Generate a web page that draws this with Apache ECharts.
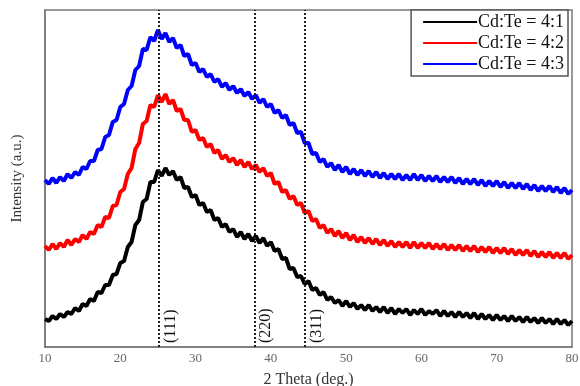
<!doctype html>
<html lang="en">
<head>
    <meta charset="UTF-8">
    <title>XRD CdTe</title>
    <style>
        html, body { margin: 0; padding: 0; background: #fff; }
        #main { width: 580px; height: 386px; }
    </style>
    <script src="https://cdn.jsdelivr.net/npm/echarts@6/dist/echarts.min.js"></script>
</head>
<body>
    <div id="main"></div>
    <script>
        // 2 theta grid: 10 to 80 deg, one reading every 0.5 deg
        var thetaStart = 10;
        var thetaStep = 0.5;

        var seriesNames = ['Cd:Te = 4:1', 'Cd:Te = 4:2', 'Cd:Te = 4:3'];
        var seriesColors = ['#000000', '#ff0000', '#0000ff'];

        // intensity (a.u.)
        var ratio41 = [
            28, 26, 31, 28, 33, 30, 35, 33, 39, 36, 43, 41, 48, 46, 55, 54, 62, 62, 72, 73,
            84, 86, 100, 105, 122, 127, 145, 148, 165, 165, 177, 171, 179, 172, 176, 167, 170, 159, 160, 150,
            152, 142, 144, 135, 137, 127, 129, 120, 123, 115, 118, 110, 115, 108, 113, 106, 111, 104, 109, 101,
            105, 96, 98, 88, 89, 78, 79, 70, 71, 63, 66, 57, 59, 52, 55, 47, 50, 44, 47, 41,
            46, 40, 44, 38, 42, 37, 42, 36, 40, 35, 40, 34, 39, 33, 38, 34, 38, 32, 37, 33,
            38, 32, 36, 33, 37, 31, 36, 31, 35, 30, 35, 30, 34, 29, 34, 28, 33, 28, 32, 27,
            32, 27, 31, 26, 31, 26, 30, 25, 30, 25, 29, 24, 29, 24, 28, 23, 28, 23, 27, 22,
            26
        ];
        var ratio42 = [
            101, 97, 103, 98, 104, 100, 107, 102, 108, 105, 112, 108, 115, 113, 122, 120, 130, 129, 141, 142,
            155, 158, 173, 179, 198, 204, 223, 226, 242, 240, 252, 245, 253, 243, 247, 236, 238, 227, 227, 215,
            217, 207, 209, 200, 203, 194, 197, 188, 192, 185, 189, 182, 187, 180, 185, 178, 182, 175, 179, 171,
            174, 163, 165, 155, 157, 148, 151, 142, 144, 134, 136, 126, 128, 119, 122, 114, 118, 111, 116, 109,
            114, 107, 112, 105, 110, 104, 109, 103, 108, 102, 107, 101, 106, 100, 105, 100, 105, 99, 105, 99,
            104, 99, 104, 98, 103, 98, 103, 97, 102, 97, 102, 96, 101, 96, 101, 95, 100, 95, 100, 94,
            99, 94, 99, 93, 98, 92, 97, 92, 97, 91, 96, 90, 95, 90, 95, 89, 94, 89, 94, 88,
            92
        ];
        var ratio43 = [
            167, 163, 169, 164, 170, 166, 173, 169, 175, 172, 180, 178, 186, 186, 197, 198, 210, 212, 225, 227,
            240, 243, 257, 261, 277, 281, 298, 297, 310, 306, 317, 308, 314, 305, 309, 299, 302, 291, 293, 282,
            284, 275, 278, 270, 273, 265, 268, 260, 264, 257, 261, 254, 258, 251, 255, 248, 252, 244, 248, 240,
            243, 234, 237, 229, 232, 222, 224, 214, 215, 204, 204, 193, 194, 185, 188, 180, 184, 177, 182, 175,
            180, 173, 178, 172, 177, 171, 176, 170, 175, 169, 174, 168, 173, 168, 173, 167, 172, 167, 173, 167,
            172, 166, 171, 166, 171, 165, 170, 165, 170, 164, 169, 163, 168, 163, 168, 162, 167, 161, 166, 161,
            166, 160, 165, 159, 164, 159, 164, 158, 163, 157, 162, 156, 161, 156, 161, 155, 160, 154, 159, 153,
            157
        ];

        // reflections of cubic CdTe
        var peakPositions = [25.1, 37.8, 44.5];
        var peakLabels = ['(111)', '(220)', '(311)'];

        var xTicks = [10, 20, 30, 40, 50, 60, 70, 80];

        function toPairs(values) {
            var out = [];
            for (var i = 0; i < values.length; i++) {
                out.push([thetaStart + i * thetaStep, values[i]]);
            }
            return out;
        }

        var serif = '"Liberation Serif", "Times New Roman", serif';

        var peakLines = [];
        for (var p = 0; p < peakPositions.length; p++) {
            peakLines.push({
                xAxis: peakPositions[p],
                label: { formatter: peakLabels[p] }
            });
        }

        var allSeries = [ratio41, ratio42, ratio43].map(function (vals, i) {
            var s = {
                name: seriesNames[i],
                type: 'line',
                data: toPairs(vals),
                showSymbol: false,
                symbol: 'none',
                lineStyle: { color: seriesColors[i], width: 4 },
                itemStyle: { color: seriesColors[i] },
                z: 3
            };
            if (i === 0) {
                s.markLine = {
                    silent: true,
                    symbol: 'none',
                    animation: false,
                    lineStyle: { color: '#222', type: [2, 2], width: 2 },
                    label: {
                        show: true,
                        position: 'insideStartBottom',
                        fontFamily: serif,
                        fontSize: 16,
                        color: '#111',
                        distance: 4
                    },
                    data: peakLines
                };
            }
            return s;
        });

        var chart = echarts.init(document.getElementById('main'));
        chart.setOption({
            animation: false,
            backgroundColor: '#fff',
            grid: {
                left: 45, right: 8, top: 10, bottom: 39,
                outerBoundsMode: 'none',
                show: true,
                borderColor: '#777',
                borderWidth: 1.5
            },
            legend: {
                data: seriesNames,
                orient: 'vertical',
                right: 12,
                top: 10,
                icon: 'rect',
                itemWidth: 54,
                itemHeight: 2,
                itemGap: 3,
                padding: [3, 4, 3, 12],
                borderColor: '#555',
                borderWidth: 1.5,
                backgroundColor: '#fff',
                textStyle: { fontFamily: serif, fontSize: 18, color: '#111', padding: [0, 0, 0, -4] }
            },
            xAxis: {
                type: 'value',
                min: 10,
                max: 80,
                interval: 10,
                name: '2 Theta (deg.)',
                nameLocation: 'middle',
                nameGap: 25,
                nameTextStyle: { fontFamily: serif, fontSize: 16, color: '#333' },
                axisLine: { lineStyle: { color: '#777', width: 1.5 } },
                axisTick: { show: false },
                splitLine: { show: false },
                axisLabel: {
                    fontFamily: serif, fontSize: 13, color: '#666', margin: 5,
                    customValues: xTicks
                }
            },
            yAxis: {
                type: 'value',
                min: 0,
                max: 337,
                name: 'Intensity (a.u.)',
                nameLocation: 'middle',
                nameGap: 20,
                nameTextStyle: { fontFamily: serif, fontSize: 15, color: '#333' },
                axisLine: { show: true, lineStyle: { color: '#777', width: 1.5 } },
                axisTick: { show: false },
                axisLabel: { show: false },
                splitLine: { show: false }
            },
            series: allSeries
        });
    </script>
</body>
</html>
